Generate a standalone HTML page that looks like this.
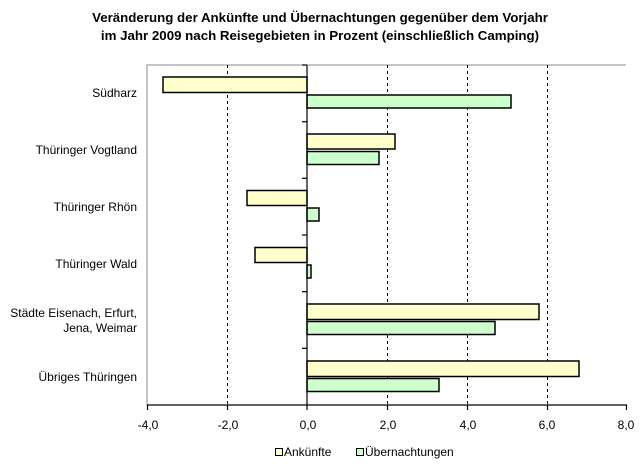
<!DOCTYPE html>
<html><head><meta charset="utf-8"><style>body{margin:0;background:#fff}svg{display:block}</style></head><body>
<svg width="640" height="464" xmlns="http://www.w3.org/2000/svg" font-family="Liberation Sans, Arial, sans-serif">
<rect width="640" height="464" fill="#fff"/>
<text x="320" y="22" text-anchor="middle" font-size="13.3" font-weight="bold">Veränderung der Ankünfte und Übernachtungen gegenüber dem Vorjahr</text>
<text x="320" y="40" text-anchor="middle" font-size="13.3" font-weight="bold">im Jahr 2009 nach Reisegebieten in Prozent (einschließlich Camping)</text>
<path d="M147 405V65H626" fill="none" stroke="#888" stroke-width="1"/>
<g stroke="#000" stroke-dasharray="3,3" stroke-width="1">
<line x1="227.5" y1="65" x2="227.5" y2="405"/>
<line x1="387.5" y1="65" x2="387.5" y2="405"/>
<line x1="467.5" y1="65" x2="467.5" y2="405"/>
<line x1="547.5" y1="65" x2="547.5" y2="405"/>
</g>
<g stroke="#000" stroke-width="1.5">
<rect x="163" y="77" width="144" height="15.5" fill="#ffffcc"/>
<rect x="307" y="95" width="204" height="13" fill="#ccffcc"/>
<rect x="307" y="134" width="88" height="15" fill="#ffffcc"/>
<rect x="307" y="151.5" width="72" height="13" fill="#ccffcc"/>
<rect x="247" y="190.5" width="60" height="15" fill="#ffffcc"/>
<rect x="307" y="208" width="12" height="13" fill="#ccffcc"/>
<rect x="255" y="247.5" width="52" height="15" fill="#ffffcc"/>
<rect x="307" y="265" width="4" height="13" fill="#ccffcc"/>
<rect x="307" y="304" width="232" height="15.5" fill="#ffffcc"/>
<rect x="307" y="321.5" width="188" height="13" fill="#ccffcc"/>
<rect x="307" y="361" width="272" height="15.5" fill="#ffffcc"/>
<rect x="307" y="378.5" width="132" height="13" fill="#ccffcc"/>
</g>
<g stroke="#000" stroke-width="1.2">
<line x1="307" y1="65" x2="307" y2="405"/>
<line x1="147" y1="405" x2="627" y2="405"/>
<line x1="302" y1="65" x2="307" y2="65"/>
<line x1="302" y1="121.7" x2="307" y2="121.7"/>
<line x1="302" y1="178.3" x2="307" y2="178.3"/>
<line x1="302" y1="235" x2="307" y2="235"/>
<line x1="302" y1="291.7" x2="307" y2="291.7"/>
<line x1="302" y1="348.3" x2="307" y2="348.3"/>
<line x1="147.5" y1="405" x2="147.5" y2="410"/>
<line x1="227.5" y1="405" x2="227.5" y2="410"/>
<line x1="307" y1="405" x2="307" y2="410"/>
<line x1="387.5" y1="405" x2="387.5" y2="410"/>
<line x1="467.5" y1="405" x2="467.5" y2="410"/>
<line x1="547.5" y1="405" x2="547.5" y2="410"/>
<line x1="626.5" y1="405" x2="626.5" y2="410"/>
</g>
<g font-size="12" text-anchor="middle">
<text x="148" y="429">-4,0</text><text x="228" y="429">-2,0</text><text x="308" y="429">0,0</text>
<text x="388" y="429">2,0</text><text x="468" y="429">4,0</text><text x="547" y="429">6,0</text><text x="626" y="429">8,0</text>
</g>
<g font-size="12" text-anchor="end">
<text x="137" y="97">Südharz</text>
<text x="137" y="154">Thüringer Vogtland</text>
<text x="137" y="211">Thüringer Rhön</text>
<text x="137" y="268">Thüringer Wald</text>
<text x="137" y="317">Städte Eisenach, Erfurt,</text>
<text x="137" y="332">Jena, Weimar</text>
<text x="137" y="381">Übriges Thüringen</text>
</g>
<rect x="275.5" y="448.5" width="7" height="7" fill="#ffffcc" stroke="#000"/>
<text x="284" y="456" font-size="12">Ankünfte</text>
<rect x="356.5" y="448.5" width="7" height="7" fill="#ccffcc" stroke="#000"/>
<text x="365" y="456" font-size="12">Übernachtungen</text>
</svg>
</body></html>
